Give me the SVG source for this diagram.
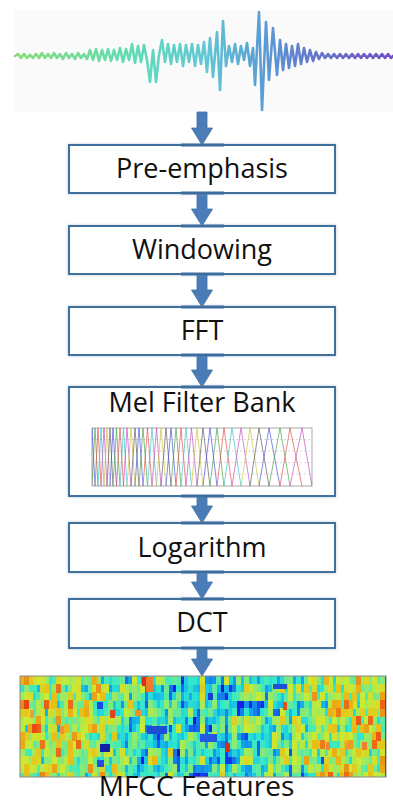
<svg xmlns="http://www.w3.org/2000/svg" width="393" height="803" viewBox="0 0 393 803">
<style>
.box{fill:#fff;stroke:#41719c;stroke-width:2}
.lbl{font-family:"Open Sans","Noto Sans","Liberation Sans",sans-serif;font-size:27px;fill:#111;text-anchor:middle}
.arr{fill:#4a7db8;stroke:#3f6fa6;stroke-width:0.8}
.jn{fill:#3d6c9f}
.tri path{fill:none;stroke-width:0.9;stroke-opacity:0.7}
.c0{stroke:#4040e0}.c1{stroke:#3a9a3a}.c2{stroke:#e04040}.c3{stroke:#30c0c0}.c4{stroke:#c040c0}.c5{stroke:#c8c030}.c6{stroke:#505050}
.grid{stroke:#c8c8c8;stroke-width:0.7;stroke-dasharray:2 2}
</style>
<defs>
<linearGradient id="wg" gradientUnits="userSpaceOnUse" x1="15" y1="0" x2="393" y2="0">
<stop offset="0" stop-color="#86dc78"/>
<stop offset="0.3" stop-color="#62dcb4"/>
<stop offset="0.5" stop-color="#62c8d4"/>
<stop offset="0.65" stop-color="#5a9ed4"/>
<stop offset="0.78" stop-color="#6478cc"/>
<stop offset="1" stop-color="#7050c4"/>
</linearGradient>
<linearGradient id="hb" x1="0" y1="0" x2="1" y2="0">
<stop offset="0" stop-color="#898989"/>
<stop offset="0.2" stop-color="#848484"/>
<stop offset="0.3" stop-color="#727272"/>
<stop offset="0.55" stop-color="#6c6c6c"/>
<stop offset="0.72" stop-color="#767676"/>
<stop offset="0.85" stop-color="#868686"/>
<stop offset="1" stop-color="#8a8a8a"/>
</linearGradient>
<filter id="sh" x="-5%" y="-10%" width="110%" height="120%">
<feDropShadow dx="0" dy="0" stdDeviation="1.5" flood-color="#8aa4c0" flood-opacity="0.6"/>
</filter>
<filter id="hmf" filterUnits="userSpaceOnUse" x="20" y="676" width="366" height="101" primitiveUnits="userSpaceOnUse" color-interpolation-filters="sRGB">
<feTurbulence type="fractalNoise" baseFrequency="0.16 0.06" numOctaves="2" seed="11" result="noise"/>
<feColorMatrix in="noise" type="matrix" values="1 0 0 0 0 1 0 0 0 0 1 0 0 0 0 0 0 0 0 1" result="gray"/>
<feComposite in="gray" in2="SourceGraphic" operator="arithmetic" k1="0" k2="0.5" k3="1" k4="-0.25" result="biased"/>
<feFlood flood-color="#fff" x="22" y="680" width="1" height="1" result="dot"/>
<feComposite in="dot" in2="dot" operator="over" x="20" y="676" width="4" height="8" result="cell"/>
<feTile in="cell" x="20" y="676" width="366" height="101" result="gridt"/>
<feComposite in="biased" in2="gridt" operator="in" result="samp"/>
<feMorphology in="samp" operator="dilate" radius="2 4" result="px"/>
<feComponentTransfer in="px" result="col">
<feFuncR type="table" tableValues=".08 .08 .08 .08 .08 .08 .08 .08 .08 .2 .5 .8 .92 .92 .92 .67 .5 .5 .5 .5 .5"/>
<feFuncG type="table" tableValues=".08 .08 .08 .08 .08 .08 .13 .43 .735 .92 .92 .92 .735 .43 .13 .08 .08 .08 .08 .08 .08"/>
<feFuncB type="table" tableValues=".5 .5 .5 .5 .5 .67 .92 .92 .92 .8 .5 .2 .08 .08 .08 .08 .08 .08 .08 .08 .08"/>
<feFuncA type="table" tableValues="1 1"/>
</feComponentTransfer>
<feGaussianBlur in="col" stdDeviation="0.5"/>
</filter>
<clipPath id="mc"><rect x="92" y="427" width="220" height="60"/></clipPath>
</defs>
<rect width="393" height="803" fill="#fff"/>

<g id="waveform">
<rect x="15" y="10" width="378" height="102" fill="#fafafa"/>
<polyline fill="none" stroke="url(#wg)" stroke-width="2.6" stroke-linejoin="round" stroke-linecap="round" points="15,56 18,54 21,58 24,54 27,58 30,55 33,58 36,54 39,58 42,53 45,58 48,54 51,58 54,53 57,58 60,54 63,59 66,53 69,58 72,54 75,59 78,53 81,58 84,54 87,59 90,50 93,60 96,49 99,61 102,50 105,60 108,49 111,61 114,50 117,60 120,48 123,62 126,49 129,60 132,44 135,63 138,46 141,62 144,45 147,60 150,82 153,50 156,82 159,55 162,40 165,62 168,44 171,64 174,45 177,62 180,44 183,66 186,45 189,62 192,44 195,66 198,45 201,64 204,42 207,72 210,38 213,77 217,32 220,90 223,21 226,66 229,46 232,62 235,44 238,64 241,46 244,60 247,43 250,66 253,48 255,85 259,12 262,110 266,22 269,80 273,28 277,75 280,40 283,70 286,44 289,68 292,46 295,66 298,44 301,64 304,48 307,62 310,50 313,61 316,52 319,59 322,53 325,58 328,54 331,58 334,54 337,58 340,54 343,58 346,54 349,58 352,54 355,58 358,54 361,58 364,54 367,58 370,54 373,58 376,54 379,58 382,54 385,58 388,54 391,58 393,56"/>
</g>

<g id="connectors">
<path class="arr" d="M197,112H207V128H212.5L202,145L191.5,128H197Z"/>
<path class="arr" d="M197,193H207V209H212.5L202,226L191.5,209H197Z"/>
<path class="arr" d="M197,274H207V290H212.5L202,307L191.5,290H197Z"/>
<path class="arr" d="M197,355H207V370H212.5L202,387L191.5,370H197Z"/>
<path class="arr" d="M197,496H207V506H212.5L202,523L191.5,506H197Z"/>
<path class="arr" d="M197,572H207V582H212.5L202,599L191.5,582H197Z"/>
<path class="arr" d="M197,648H207V659H212.5L202,676L191.5,659H197Z"/>
</g>

<g id="pre-emphasis">
<rect class="box" filter="url(#sh)" x="69" y="145" width="266" height="48"/>
<text class="lbl" x="202" y="178">Pre-emphasis</text>
</g>
<g id="windowing">
<rect class="box" filter="url(#sh)" x="69" y="226" width="266" height="48"/>
<text class="lbl" x="202" y="259">Windowing</text>
</g>
<g id="fft">
<rect class="box" filter="url(#sh)" x="69" y="307" width="266" height="48"/>
<text class="lbl" x="202" y="340">FFT</text>
</g>
<g id="mel-filter-bank">
<rect class="box" filter="url(#sh)" x="69" y="387" width="266" height="109"/>
<text class="lbl" x="202" y="412">Mel Filter Bank</text>
<rect x="92" y="428" width="220" height="58" fill="#fff" stroke="#aaa" stroke-width="1"/>
<line class="grid" x1="92" y1="439.5" x2="312" y2="439.5"/>
<line class="grid" x1="92" y1="451" x2="312" y2="451"/>
<line class="grid" x1="92" y1="462.5" x2="312" y2="462.5"/>
<line class="grid" x1="92" y1="474" x2="312" y2="474"/>
<g class="tri" clip-path="url(#mc)">
<path class="c0" d="M89,486L92,428L95,486"/>
<path class="c1" d="M92,486L95,428L98,486"/>
<path class="c2" d="M95,486L98,428L101,486"/>
<path class="c3" d="M98,486L101,428L104,486"/>
<path class="c4" d="M101,486L104,428L107,486"/>
<path class="c5" d="M104,486L107,428L110,486"/>
<path class="c6" d="M107,486L110,428L113,486"/>
<path class="c0" d="M110,486L113,428L116.5,486"/>
<path class="c1" d="M113,486L116.5,428L120,486"/>
<path class="c2" d="M116.5,486L120,428L123.5,486"/>
<path class="c3" d="M120,486L123.5,428L127,486"/>
<path class="c4" d="M123.5,486L127,428L131,486"/>
<path class="c5" d="M127,486L131,428L135,486"/>
<path class="c6" d="M131,486L135,428L139,486"/>
<path class="c0" d="M135,486L139,428L143,486"/>
<path class="c1" d="M139,486L143,428L147.5,486"/>
<path class="c2" d="M143,486L147.5,428L152,486"/>
<path class="c3" d="M147.5,486L152,428L156.5,486"/>
<path class="c4" d="M152,486L156.5,428L161,486"/>
<path class="c5" d="M156.5,486L161,428L166,486"/>
<path class="c6" d="M161,486L166,428L171,486"/>
<path class="c0" d="M166,486L171,428L176,486"/>
<path class="c1" d="M171,486L176,428L181,486"/>
<path class="c2" d="M176,486L181,428L186,486"/>
<path class="c3" d="M181,486L186,428L191.5,486"/>
<path class="c4" d="M186,486L191.5,428L197,486"/>
<path class="c5" d="M191.5,486L197,428L203,486"/>
<path class="c6" d="M197,486L203,428L210,486"/>
<path class="c0" d="M203,486L210,428L217,486"/>
<path class="c1" d="M210,486L217,428L224,486"/>
<path class="c2" d="M217,486L224,428L232,486"/>
<path class="c3" d="M224,486L232,428L241,486"/>
<path class="c4" d="M232,486L241,428L250,486"/>
<path class="c5" d="M241,486L250,428L259,486"/>
<path class="c6" d="M250,486L259,428L269,486"/>
<path class="c0" d="M259,486L269,428L280,486"/>
<path class="c1" d="M269,486L280,428L290,486"/>
<path class="c2" d="M280,486L290,428L302,486"/>
<path class="c4" d="M290,486L302,428L312,486"/>
</g>
</g>
<g id="logarithm">
<rect class="box" filter="url(#sh)" x="69" y="523" width="266" height="49"/>
<text class="lbl" x="202" y="557">Logarithm</text>
</g>
<g id="dct">
<rect class="box" filter="url(#sh)" x="69" y="599" width="266" height="49"/>
<text class="lbl" x="202" y="632">DCT</text>
</g>

<g id="junctions">
<rect class="jn" x="181" y="143.5" width="43" height="3"/>
<rect class="jn" x="181" y="191.5" width="43" height="3"/>
<rect class="jn" x="181" y="224.5" width="43" height="3"/>
<rect class="jn" x="181" y="272.5" width="43" height="3"/>
<rect class="jn" x="181" y="305.5" width="43" height="3"/>
<rect class="jn" x="181" y="353.5" width="43" height="3"/>
<rect class="jn" x="181" y="385.5" width="43" height="3"/>
<rect class="jn" x="181" y="494.5" width="43" height="3"/>
<rect class="jn" x="181" y="521.5" width="43" height="3"/>
<rect class="jn" x="181" y="570.5" width="43" height="3"/>
<rect class="jn" x="181" y="597.5" width="43" height="3"/>
<rect class="jn" x="181" y="646.5" width="43" height="3"/>
</g>

<g id="mfcc-features">
<rect x="20" y="676" width="366" height="101" fill="url(#hb)" filter="url(#hmf)"/>
<g id="hm-highlights">
<rect x="142" y="677" width="4" height="9" fill="#d8301a"/>
<rect x="146" y="677" width="7" height="15" fill="#f07a28"/>
<rect x="97" y="702" width="6" height="7" fill="#1a48d8"/>
<rect x="110" y="710" width="5" height="8" fill="#e0401a"/>
<rect x="135" y="710" width="6" height="6" fill="#f09030"/>
<rect x="100" y="744" width="10" height="8" fill="#1020a8"/>
<rect x="97" y="760" width="7" height="7" fill="#2050e0"/>
<rect x="147" y="726" width="20" height="8" fill="#1e4ed8"/>
<rect x="200" y="734" width="17" height="8" fill="#2458e0"/>
<rect x="225" y="743" width="5" height="9" fill="#d8301a"/>
<rect x="208" y="693" width="5" height="7" fill="#1a40d0"/>
<rect x="283" y="702" width="4" height="8" fill="#e0501a"/>
<rect x="273" y="684" width="14" height="5" fill="#2050d8"/>
<rect x="326" y="742" width="4" height="8" fill="#f08a30"/>
<rect x="345" y="742" width="4" height="8" fill="#f09a30"/>
<rect x="362" y="742" width="5" height="8" fill="#f08030"/>
<rect x="30" y="710" width="4" height="8" fill="#f0a030"/>
<rect x="60" y="726" width="4" height="8" fill="#f09030"/>
</g>
<rect x="20" y="676" width="366" height="101" fill="none" stroke="#8a8a8a" stroke-width="1"/>
<text class="lbl" x="196.5" y="796" style="font-size:28px">MFCC Features</text>
</g>
</svg>
